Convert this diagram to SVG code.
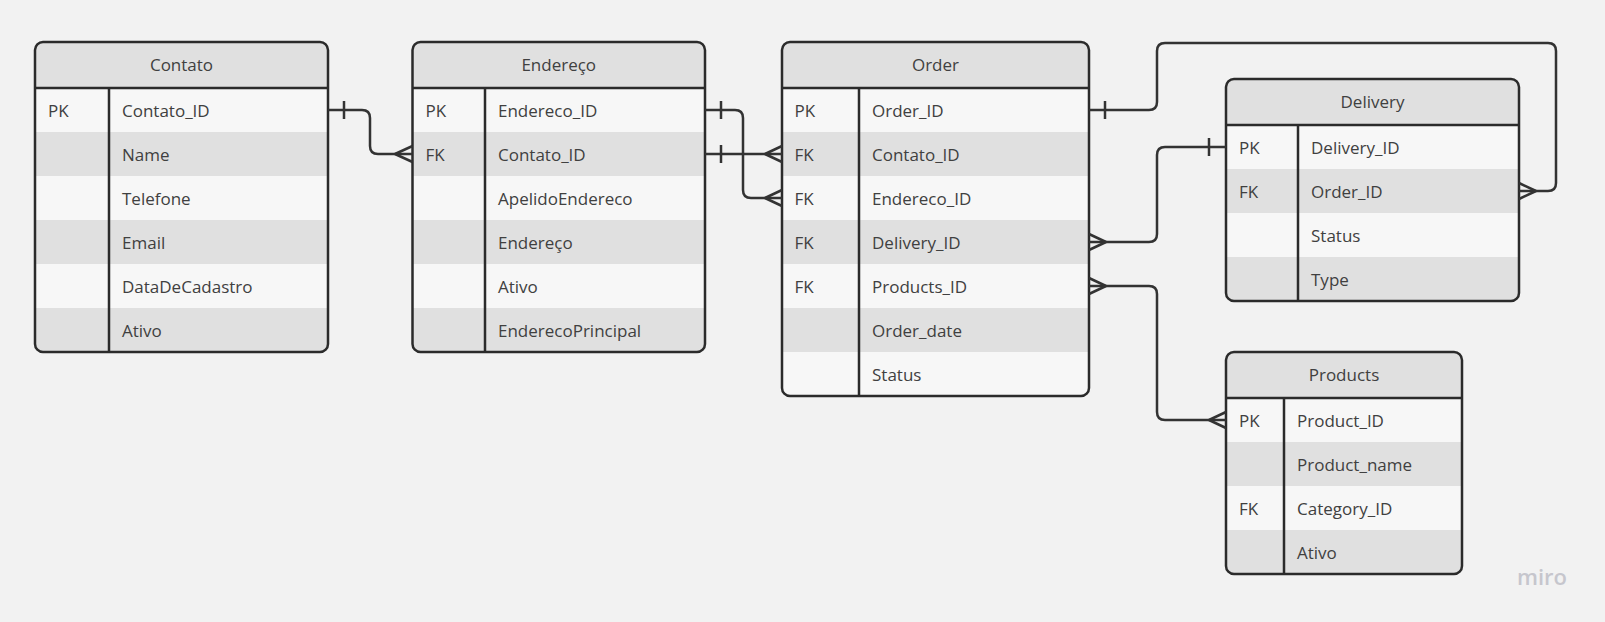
<svg xmlns="http://www.w3.org/2000/svg" width="1605" height="622" viewBox="0 0 1605 622">
<style>
.bg{fill:#f2f2f2}
.lt{fill:#f7f7f7}
.dk{fill:#e0e0e0}
.frame{fill:none;stroke:#2b2b2b;stroke-width:2.5}
.sep{stroke:#2b2b2b;stroke-width:2.5}
.t{font-family:"Open Sans","Noto Sans",sans-serif;font-size:17px;fill:#404040}
.h{text-anchor:middle}
.conn path{fill:none;stroke:#333;stroke-width:2.5;stroke-linejoin:round}
.miro{font-family:"Open Sans","Noto Sans",sans-serif;font-size:22px;font-weight:600;fill:#c6c6cd}
</style>
<defs>
<clipPath id="cC"><rect x="35" y="42" width="293" height="310" rx="8"/></clipPath>
<clipPath id="cE"><rect x="412.5" y="42" width="292.5" height="310" rx="8"/></clipPath>
<clipPath id="cO"><rect x="782" y="42" width="307" height="354" rx="8"/></clipPath>
<clipPath id="cD"><rect x="1226" y="79" width="293" height="222" rx="8"/></clipPath>
<clipPath id="cP"><rect x="1226" y="352" width="236" height="222" rx="8"/></clipPath>
</defs>
<rect class="bg" x="0" y="0" width="1605" height="622"/>

<g id="contato">
<g clip-path="url(#cC)">
<rect class="dk" x="35" y="42" width="293" height="46"/>
<rect class="lt" x="35" y="88" width="293" height="44"/>
<rect class="dk" x="35" y="132" width="293" height="44"/>
<rect class="lt" x="35" y="176" width="293" height="44"/>
<rect class="dk" x="35" y="220" width="293" height="44"/>
<rect class="lt" x="35" y="264" width="293" height="44"/>
<rect class="dk" x="35" y="308" width="293" height="44"/>
</g>
<line class="sep" x1="35" y1="88" x2="328" y2="88"/>
<line class="sep" x1="109" y1="88" x2="109" y2="352"/>
<rect class="frame" x="35" y="42" width="293" height="310" rx="8"/>
<text class="t h" x="181.5" y="71">Contato</text>
<text class="t" x="48" y="116.5">PK</text>
<text class="t" x="122" y="116.5">Contato_ID</text>
<text class="t" x="122" y="160.5">Name</text>
<text class="t" x="122" y="204.5">Telefone</text>
<text class="t" x="122" y="248.5">Email</text>
<text class="t" x="122" y="292.5">DataDeCadastro</text>
<text class="t" x="122" y="336.5">Ativo</text>
</g>

<g id="endereco">
<g clip-path="url(#cE)">
<rect class="dk" x="412.5" y="42" width="292.5" height="46"/>
<rect class="lt" x="412.5" y="88" width="292.5" height="44"/>
<rect class="dk" x="412.5" y="132" width="292.5" height="44"/>
<rect class="lt" x="412.5" y="176" width="292.5" height="44"/>
<rect class="dk" x="412.5" y="220" width="292.5" height="44"/>
<rect class="lt" x="412.5" y="264" width="292.5" height="44"/>
<rect class="dk" x="412.5" y="308" width="292.5" height="44"/>
</g>
<line class="sep" x1="412.5" y1="88" x2="705" y2="88"/>
<line class="sep" x1="485" y1="88" x2="485" y2="352"/>
<rect class="frame" x="412.5" y="42" width="292.5" height="310" rx="8"/>
<text class="t h" x="558.75" y="71">Endereço</text>
<text class="t" x="425.5" y="116.5">PK</text>
<text class="t" x="425.5" y="160.5">FK</text>
<text class="t" x="498" y="116.5">Endereco_ID</text>
<text class="t" x="498" y="160.5">Contato_ID</text>
<text class="t" x="498" y="204.5">ApelidoEndereco</text>
<text class="t" x="498" y="248.5">Endereço</text>
<text class="t" x="498" y="292.5">Ativo</text>
<text class="t" x="498" y="336.5">EnderecoPrincipal</text>
</g>

<g id="order">
<g clip-path="url(#cO)">
<rect class="dk" x="782" y="42" width="307" height="46"/>
<rect class="lt" x="782" y="88" width="307" height="44"/>
<rect class="dk" x="782" y="132" width="307" height="44"/>
<rect class="lt" x="782" y="176" width="307" height="44"/>
<rect class="dk" x="782" y="220" width="307" height="44"/>
<rect class="lt" x="782" y="264" width="307" height="44"/>
<rect class="dk" x="782" y="308" width="307" height="44"/>
<rect class="lt" x="782" y="352" width="307" height="44"/>
</g>
<line class="sep" x1="782" y1="88" x2="1089" y2="88"/>
<line class="sep" x1="859" y1="88" x2="859" y2="396"/>
<rect class="frame" x="782" y="42" width="307" height="354" rx="8"/>
<text class="t h" x="935.5" y="71">Order</text>
<text class="t" x="794.5" y="116.5">PK</text>
<text class="t" x="794.5" y="160.5">FK</text>
<text class="t" x="794.5" y="204.5">FK</text>
<text class="t" x="794.5" y="248.5">FK</text>
<text class="t" x="794.5" y="292.5">FK</text>
<text class="t" x="872" y="116.5">Order_ID</text>
<text class="t" x="872" y="160.5">Contato_ID</text>
<text class="t" x="872" y="204.5">Endereco_ID</text>
<text class="t" x="872" y="248.5">Delivery_ID</text>
<text class="t" x="872" y="292.5">Products_ID</text>
<text class="t" x="872" y="336.5">Order_date</text>
<text class="t" x="872" y="380.5">Status</text>
</g>

<g id="delivery">
<g clip-path="url(#cD)">
<rect class="dk" x="1226" y="79" width="293" height="46"/>
<rect class="lt" x="1226" y="125" width="293" height="44"/>
<rect class="dk" x="1226" y="169" width="293" height="44"/>
<rect class="lt" x="1226" y="213" width="293" height="44"/>
<rect class="dk" x="1226" y="257" width="293" height="44"/>
</g>
<line class="sep" x1="1226" y1="125" x2="1519" y2="125"/>
<line class="sep" x1="1298" y1="125" x2="1298" y2="301"/>
<rect class="frame" x="1226" y="79" width="293" height="222" rx="8"/>
<text class="t h" x="1372.5" y="108">Delivery</text>
<text class="t" x="1239" y="153.5">PK</text>
<text class="t" x="1239" y="197.5">FK</text>
<text class="t" x="1311" y="153.5">Delivery_ID</text>
<text class="t" x="1311" y="197.5">Order_ID</text>
<text class="t" x="1311" y="241.5">Status</text>
<text class="t" x="1311" y="285.5">Type</text>
</g>

<g id="products">
<g clip-path="url(#cP)">
<rect class="dk" x="1226" y="352" width="236" height="46"/>
<rect class="lt" x="1226" y="398" width="236" height="44"/>
<rect class="dk" x="1226" y="442" width="236" height="44"/>
<rect class="lt" x="1226" y="486" width="236" height="44"/>
<rect class="dk" x="1226" y="530" width="236" height="44"/>
</g>
<line class="sep" x1="1226" y1="398" x2="1462" y2="398"/>
<line class="sep" x1="1284" y1="398" x2="1284" y2="574"/>
<rect class="frame" x="1226" y="352" width="236" height="222" rx="8"/>
<text class="t h" x="1344" y="381">Products</text>
<text class="t" x="1239" y="426.5">PK</text>
<text class="t" x="1239" y="514.5">FK</text>
<text class="t" x="1297" y="426.5">Product_ID</text>
<text class="t" x="1297" y="470.5">Product_name</text>
<text class="t" x="1297" y="514.5">Category_ID</text>
<text class="t" x="1297" y="558.5">Ativo</text>
</g>

<g id="connectors" class="conn">
<path d="M328,110 H362 Q370,110 370,118 V146 Q370,154 378,154 H412.5"/>
<path d="M344,101 V119"/>
<path d="M395,154 L412.5,146 M395,154 L412.5,162"/>

<path d="M705,110 H735 Q743,110 743,118 V190 Q743,198 751,198 H782"/>
<path d="M721,101 V119"/>
<path d="M765,198 L782,190 M765,198 L782,206"/>

<path d="M705,154 H782"/>
<path d="M721,145 V163"/>
<path d="M765,154 L782,146 M765,154 L782,162"/>

<path d="M1089,110 H1149 Q1157,110 1157,102 V51 Q1157,43 1165,43 H1548 Q1556,43 1556,51 V183 Q1556,191 1548,191 H1519"/>
<path d="M1105,101 V119"/>
<path d="M1536,191 L1519,183 M1536,191 L1519,199"/>

<path d="M1089,242 H1149 Q1157,242 1157,234 V155 Q1157,147 1165,147 H1226"/>
<path d="M1209,138 V156"/>
<path d="M1106,242 L1089,234 M1106,242 L1089,250"/>

<path d="M1089,286 H1149 Q1157,286 1157,294 V412 Q1157,420 1165,420 H1226"/>
<path d="M1106,286 L1089,278 M1106,286 L1089,294"/>
<path d="M1209,420 L1226,412 M1209,420 L1226,428"/>
</g>

<text class="miro" x="1517" y="585">miro</text>
</svg>
